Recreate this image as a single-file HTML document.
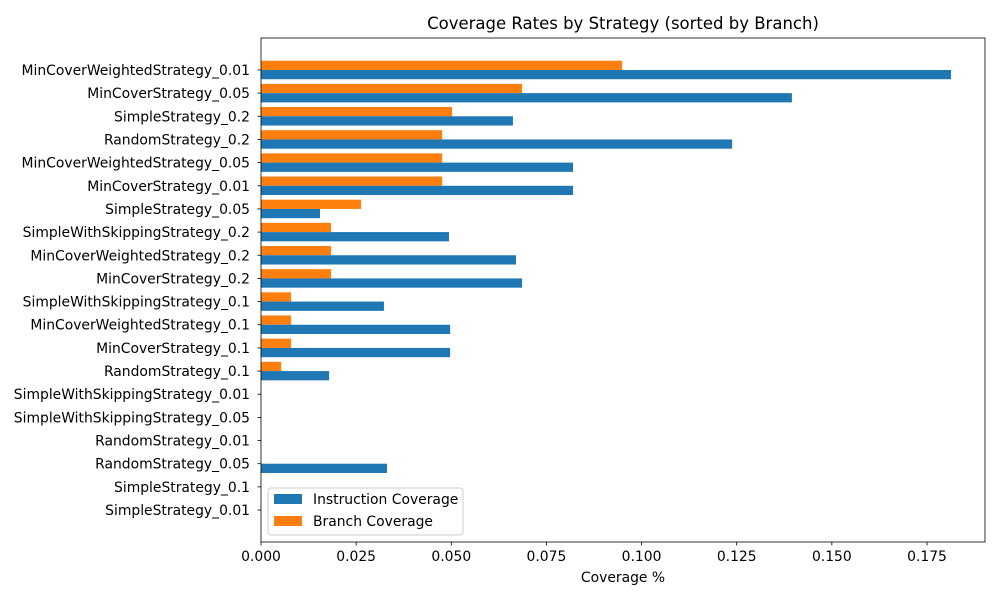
<!DOCTYPE html>
<html><head><meta charset="utf-8"><style>
body{margin:0;background:#fff;font-family:"Liberation Sans","DejaVu Sans",sans-serif;}
svg text{font-family:"DejaVu Sans","Liberation Sans",sans-serif;}
</style></head><body>
<svg id="chart" width="1000" height="600" xmlns="http://www.w3.org/2000/svg">
<rect width="1000" height="600" fill="#fff"/>
<text x="623" y="29" font-size="16.5" text-anchor="middle" fill="#000">Coverage Rates by Strategy (sorted by Branch)</text>
<g id="plot"></g>
</svg>
<script>
const categories=["MinCoverWeightedStrategy_0.01","MinCoverStrategy_0.05","SimpleStrategy_0.2","RandomStrategy_0.2","MinCoverWeightedStrategy_0.05","MinCoverStrategy_0.01","SimpleStrategy_0.05","SimpleWithSkippingStrategy_0.2","MinCoverWeightedStrategy_0.2","MinCoverStrategy_0.2","SimpleWithSkippingStrategy_0.1","MinCoverWeightedStrategy_0.1","MinCoverStrategy_0.1","RandomStrategy_0.1","SimpleWithSkippingStrategy_0.01","SimpleWithSkippingStrategy_0.05","RandomStrategy_0.01","RandomStrategy_0.05","SimpleStrategy_0.1","SimpleStrategy_0.01"];
const instructionValues=[0.1813,0.1395,0.0662,0.1238,0.0820,0.0820,0.0155,0.0494,0.0670,0.0686,0.0323,0.0497,0.0497,0.0179,0,0,0,0.0331,0,0];
const branchValues=[0.0949,0.0686,0.0502,0.0476,0.0476,0.0476,0.0263,0.0184,0.0184,0.0184,0.0079,0.0079,0.0079,0.0053,0,0,0,0,0,0];
const xTicks=[0,0.025,0.05,0.075,0.1,0.125,0.15,0.175];
const xTickLabels=["0.000","0.025","0.050","0.075","0.100","0.125","0.150","0.175"];

const L=261,R=985,T=38,B=542;
const xs=v=>L+v*(666/0.175);
const step=(B-T)/(categories.length-1+2*1.38);
const ys=i=>T+1.38*step+i*step;
const bh=step*0.4;
const NS="http://www.w3.org/2000/svg";
const g=document.getElementById('plot');
function mk(tag,attrs,txt){const e=document.createElementNS(NS,tag);for(const k in attrs)e.setAttribute(k,attrs[k]);if(txt!==undefined)e.textContent=txt;g.appendChild(e);return e;}

categories.forEach((c,i)=>{
  const y=ys(i);
  const b=mk('rect',{x:L,y:y-bh,width:xs(branchValues[i])-L,height:bh,fill:'#ff7f0e'});
  
  
  const a=mk('rect',{x:L,y:y,width:xs(instructionValues[i])-L,height:bh,fill:'#1f77b4'});
  
  
  const tk=mk('line',{x1:L-3.5,x2:L,y1:y,y2:y,stroke:'#000','stroke-width':0.8});
  
  
  const t=mk('text',{x:L-11,y:y+5,'font-size':13.9,'text-anchor':'end',fill:'#000'},c);
  
  
});
xTicks.forEach((v,i)=>{
  const x=xs(v);
  const tk=mk('line',{x1:x,x2:x,y1:B,y2:B+3.5,stroke:'#000','stroke-width':0.8});
  
  
  const t=mk('text',{x:x,y:B+19,'font-size':13.9,'text-anchor':'middle',fill:'#000'},xTickLabels[i]);
  
  
});
const fr=mk('rect',{x:L,y:T,width:R-L,height:B-T,fill:'none',stroke:'#000','stroke-width':0.8});


const xl=mk('text',{x:(L+R)/2,y:582,'font-size':13.9,'text-anchor':'middle',fill:'#000'},'Coverage %');


const lg=mk('rect',{x:268,y:488,width:195,height:47,rx:3,fill:'#fff','fill-opacity':0.8,stroke:'#ccc'});


[['Instruction Coverage','#1f77b4',499],['Branch Coverage','#ff7f0e',521]].forEach(([n,c,y])=>{
  const s=mk('rect',{x:274,y:y-5,width:28,height:10,fill:c});
  
  
  const t=mk('text',{x:313,y:y+5,'font-size':13.9,fill:'#000'},n);
  
  
});
</script>
</body></html>
